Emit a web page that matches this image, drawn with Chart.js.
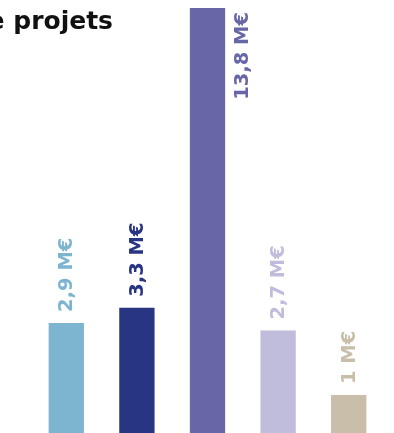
<!DOCTYPE html>
<html>
<head>
<meta charset="utf-8">
<script src="https://cdn.jsdelivr.net/npm/chart.js@4/dist/chart.umd.min.js"></script>
<style>
  html, body { margin: 0; padding: 0; background: #fff; overflow: hidden; }
  #wrap { position: relative; width: 394px; height: 433px; }
  #title {
    position: absolute; right: 281px; top: 8px;
    font: bold 25px "DejaVu Sans", sans-serif; line-height: 1;
    color: #111; white-space: nowrap; z-index: 2;
  }
</style>
</head>
<body>
<div id="wrap">
  <div id="title">Répartition par type de projets</div>
  <canvas id="chart"></canvas>
</div>
<script>
// Chart data
const categories = ['Projet 1', 'Projet 2', 'Projet 3', 'Projet 4', 'Projet 5'];
const amounts = [2.9, 3.3, 13.8, 2.7, 1];
const barColors = ['#7db5d1', '#283583', '#6766a7', '#bfbcdc', '#c8bea9'];
const axisMax = 11.2; // the big bar runs past the top and is cut off

function formatAmount(v) {
  return String(v).replace('.', ',') + ' M€';
}

// Draw rotated value labels above the bars (beside the cut-off one)
const valueLabels = {
  id: 'valueLabels',
  afterDatasetsDraw(chart) {
    const ctx = chart.ctx;
    const meta = chart.getDatasetMeta(0);
    const area = chart.chartArea;
    ctx.save();
    ctx.font = 'bold 19.5px "DejaVu Sans", sans-serif';
    ctx.textBaseline = 'middle';
    meta.data.forEach(function(bar, i) {
      const text = formatAmount(amounts[i]);
      ctx.fillStyle = barColors[i];
      ctx.save();
      if (amounts[i] > axisMax) {
        ctx.translate(bar.x + bar.width / 2 + 18, area.top + 4);
        ctx.rotate(-Math.PI / 2);
        ctx.textAlign = 'right';
      } else {
        ctx.translate(bar.x + 1, bar.y - 11);
        ctx.rotate(-Math.PI / 2);
        ctx.textAlign = 'left';
      }
      ctx.fillText(text, 0, 0);
      ctx.restore();
    });
    ctx.restore();
  }
};

new Chart(document.getElementById('chart'), {
  type: 'bar',
  data: {
    labels: categories,
    datasets: [{
      data: amounts,
      backgroundColor: barColors,
      borderWidth: 0,
      barPercentage: 0.5,
      categoryPercentage: 1
    }]
  },
  options: {
    responsive: true,
    maintainAspectRatio: false,
    animation: false,
    layout: { padding: { top: 8, left: 31, right: 10, bottom: 0 } },
    plugins: {
      legend: { display: false },
      tooltip: { enabled: false }
    },
    scales: {
      x: { display: false },
      y: { display: false, min: 0, max: axisMax }
    }
  },
  plugins: [valueLabels]
});
</script>
</body>
</html>
